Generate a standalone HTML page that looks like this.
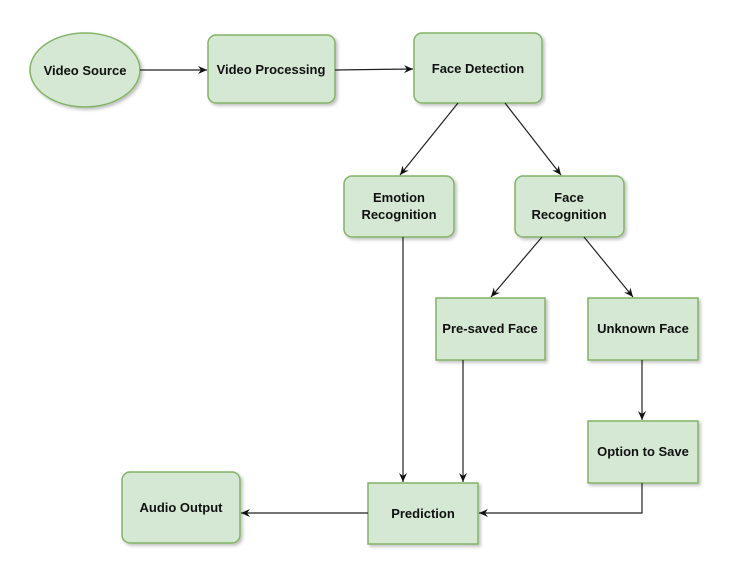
<!DOCTYPE html>
<html><head><meta charset="utf-8"><style>
html,body{margin:0;padding:0;background:#fff;}
text{font-family:"Liberation Sans",Arial,sans-serif;font-weight:bold;font-size:13px;fill:#111;}
</style></head><body>
<svg width="753" height="574" xmlns="http://www.w3.org/2000/svg">
<defs>
<marker id="a" markerWidth="10" markerHeight="10" refX="9" refY="5" orient="auto" markerUnits="userSpaceOnUse">
<path d="M0,1 L9,5 L0,9 L3,5 z" fill="#111"/></marker>
<filter id="s" x="-10%" y="-10%" width="130%" height="130%"><feDropShadow dx="2" dy="2" stdDeviation="1.5" flood-color="#000" flood-opacity="0.25"/></filter>
</defs>
<g fill="#d5e8d4" stroke="#82b366" stroke-width="1.5" filter="url(#s)">
<ellipse cx="85" cy="70" rx="55" ry="37"/>
<rect x="208" y="35" width="127" height="68" rx="8"/>
<rect x="414" y="33" width="128" height="70" rx="8"/>
<rect x="344" y="176" width="110" height="61" rx="8"/>
<rect x="515" y="176" width="109" height="61" rx="8"/>
<rect x="436" y="298" width="109" height="62"/>
<rect x="588" y="298" width="110" height="62"/>
<rect x="588" y="421" width="110" height="62"/>
<rect x="368" y="483" width="110" height="61"/>
<rect x="122" y="472" width="118" height="71" rx="8"/>
</g>
<g stroke="#222" stroke-width="1.2" fill="none" marker-end="url(#a)">
<line x1="140" y1="70" x2="207" y2="70"/>
<line x1="335" y1="70" x2="413" y2="69"/>
<line x1="458" y1="103" x2="400" y2="175"/>
<line x1="505" y1="103" x2="561" y2="175"/>
<line x1="542" y1="237" x2="491" y2="297"/>
<line x1="584" y1="237" x2="633" y2="297"/>
<line x1="403" y1="237" x2="403" y2="482"/>
<line x1="463" y1="360" x2="463" y2="482"/>
<line x1="642" y1="360" x2="642" y2="420"/>
<polyline points="642,483 642,513 479,513"/>
<line x1="368" y1="513" x2="241" y2="513"/>
</g>
<g text-anchor="middle">
<text x="85" y="75">Video Source</text>
<text x="271" y="74">Video Processing</text>
<text x="478" y="73">Face Detection</text>
<text x="399" y="202">Emotion</text>
<text x="399" y="219">Recognition</text>
<text x="569" y="202">Face</text>
<text x="569" y="219">Recognition</text>
<text x="490" y="333">Pre-saved Face</text>
<text x="643" y="333">Unknown Face</text>
<text x="643" y="456">Option to Save</text>
<text x="423" y="518">Prediction</text>
<text x="181" y="512">Audio Output</text>
</g>
</svg>
</body></html>
